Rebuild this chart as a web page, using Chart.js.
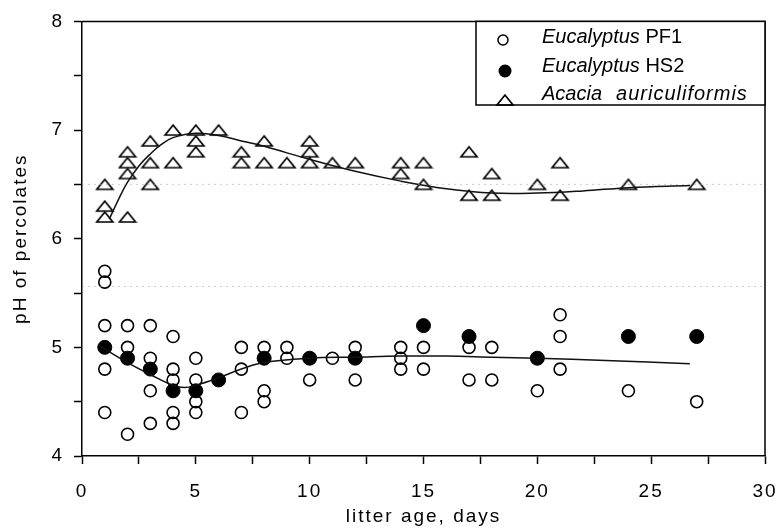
<!DOCTYPE html>
<html>
<head>
<meta charset="utf-8">
<script src="https://cdn.jsdelivr.net/npm/chart.js@4.4.1/dist/chart.umd.min.js"></script>
<style>
  html, body { margin: 0; padding: 0; background: #fff; }
  #c { display: block; }
</style>
</head>
<body>
<canvas id="c" width="781" height="530"></canvas>
<script>
// pH of percolates against litter age
const pf1Days = [1,1,1,1,1, 2,2,2, 3,3,3,3, 4,4,4,4,4, 5,5,5,5, 7,7,7, 8,8,8, 9,9, 10, 11, 12,12, 14,14,14, 15,15, 17,17, 18,18, 20, 21,21,21, 24, 27];
const pf1Values = [5.7,5.6,5.2,4.8,4.4, 5.2,5.0,4.2, 5.2,4.9,4.6,4.3, 5.1,4.8,4.7,4.4,4.3, 4.9,4.7,4.5,4.4, 5.0,4.8,4.4, 5.0,4.6,4.5, 5.0,4.9, 4.7, 4.9, 5.0,4.7, 5.0,4.9,4.8, 5.0,4.8, 5.0,4.7, 5.0,4.7, 4.6, 5.3,5.1,4.8, 4.6, 4.5];

const hs2Days = [1, 2, 3, 4, 5, 6, 8, 10, 12, 15, 17, 20, 24, 27];
const hs2Values = [5.0, 4.9, 4.8, 4.6, 4.6, 4.7, 4.9, 4.9, 4.9, 5.2, 5.1, 4.9, 5.1, 5.1];

const acaciaDays = [1,1,1, 2,2,2,2, 3,3,3, 4,4, 5,5,5, 6, 7,7, 8,8, 9, 10,10,10, 11, 12, 14,14, 15,15, 17,17, 18,18, 20, 21,21, 24, 27];
const acaciaValues = [6.5,6.3,6.2, 6.8,6.7,6.6,6.2, 6.9,6.7,6.5, 7.0,6.7, 7.0,6.9,6.8, 7.0, 6.8,6.7, 6.9,6.7, 6.7, 6.9,6.8,6.7, 6.7, 6.7, 6.7,6.6, 6.7,6.5, 6.8,6.4, 6.6,6.4, 6.5, 6.7,6.4, 6.5, 6.5];

// fitted trend curves
const acaciaFitDays = [1.2, 1.6, 2, 2.5, 3, 3.5, 4, 5, 6, 7, 8, 10, 12, 14, 16, 18, 20, 22, 24, 26.7];
const acaciaFitValues = [6.18, 6.36, 6.52, 6.67, 6.78, 6.87, 6.93, 6.97, 6.95, 6.9, 6.85, 6.73, 6.62, 6.53, 6.46, 6.42, 6.42, 6.44, 6.47, 6.49];
const eucFitDays = [0.8, 2, 3, 4, 4.5, 5, 6, 7, 8, 10, 12, 14, 16, 18, 20, 23, 26.7];
const eucFitValues = [5.01, 4.86, 4.75, 4.65, 4.63, 4.65, 4.72, 4.8, 4.86, 4.9, 4.91, 4.92, 4.92, 4.91, 4.9, 4.88, 4.85];

// faint dotted reference levels
const guideLevels = [6.5, 5.56];
const xRange = [0, 30];
const yRange = [4, 8];

// legend text: [italic words], plain suffix
const legendEntries = [
  { italic: ['Eucalyptus'], plain: ' PF1', marker: 'open' },
  { italic: ['Eucalyptus'], plain: ' HS2', marker: 'filled' },
  { italic: ['Acacia', 'auriculiformis'], plain: '', marker: 'triangle' }
];

const FONT = '"Liberation Sans", Arial, Helvetica, sans-serif';

function pairs(xs, ys) { return xs.map((x, i) => ({ x: x, y: ys[i] })); }

// flat open triangle marker
function makeTriangle(w, h, lw) {
  const cv = document.createElement('canvas');
  cv.width = w + 4; cv.height = h + 4;
  const g = cv.getContext('2d');
  g.lineWidth = lw;
  g.strokeStyle = '#000';
  g.lineJoin = 'miter';
  g.beginPath();
  g.moveTo(2, h + 2);
  g.lineTo(w + 2, h + 2);
  g.lineTo(w / 2 + 2, 2);
  g.closePath();
  g.stroke();
  return cv;
}
const triangleMark = makeTriangle(16, 10, 1.7);

const datasets = [];
guideLevels.forEach(level => {
  datasets.push({
    data: [{ x: xRange[0], y: level }, { x: xRange[1], y: level }],
    showLine: true, borderColor: 'rgba(160,160,160,0.55)', borderWidth: 1,
    borderDash: [2, 4], pointRadius: 0, tension: 0
  });
});
datasets.push({
  data: pairs(acaciaFitDays, acaciaFitValues),
  showLine: true, borderColor: '#111', borderWidth: 1.5, pointRadius: 0, tension: 0.4
});
datasets.push({
  data: pairs(eucFitDays, eucFitValues),
  showLine: true, borderColor: '#111', borderWidth: 1.5, pointRadius: 0, tension: 0.4
});
datasets.push({
  label: 'Eucalyptus PF1',
  data: pairs(pf1Days, pf1Values),
  pointStyle: 'circle', pointRadius: 6, pointBorderWidth: 1.6,
  pointBorderColor: '#000', pointBackgroundColor: 'rgba(0,0,0,0)'
});
datasets.push({
  label: 'Eucalyptus HS2',
  data: pairs(hs2Days, hs2Values),
  pointStyle: 'circle', pointRadius: 7, pointBorderWidth: 1,
  pointBorderColor: '#000', pointBackgroundColor: '#000'
});
datasets.push({
  label: 'Acacia auriculiformis',
  data: pairs(acaciaDays, acaciaValues),
  pointStyle: triangleMark, pointRadius: 8
});

// axis text in this figure is set slightly spaced out
const spacingPlugin = {
  id: 'spacing',
  beforeDraw(chart) { chart.ctx.letterSpacing = '2px'; },
  afterDatasetsDraw(chart) { chart.ctx.letterSpacing = '0px'; }
};

const framePlugin = {
  id: 'frame',
  afterDraw(chart) {
    const { ctx, chartArea: a } = chart;
    ctx.save();
    ctx.strokeStyle = '#000';
    ctx.lineWidth = 1.5;
    ctx.beginPath();
    ctx.moveTo(a.left, a.top);
    ctx.lineTo(a.right, a.top);
    ctx.lineTo(a.right, a.bottom);
    ctx.stroke();
    ctx.restore();
  }
};

const legendPlugin = {
  id: 'boxLegend',
  afterDraw(chart) {
    const { ctx, chartArea: a } = chart;
    const left = 476, top = a.top, right = a.right, bottom = 105;
    ctx.save();
    ctx.letterSpacing = '0px';
    ctx.fillStyle = '#fff';
    ctx.fillRect(left, top, right - left, bottom - top);
    ctx.strokeStyle = '#000';
    ctx.lineWidth = 1.5;
    ctx.strokeRect(left, top, right - left, bottom - top);
    const rowY = [37, 66, 94];
    const markX = 505, textX = 542;
    legendEntries.forEach((e, i) => {
      const y = rowY[i];
      ctx.lineWidth = 1.5;
      ctx.strokeStyle = '#000';
      if (e.marker === 'open') {
        ctx.beginPath(); ctx.arc(markX - 2, y + 3, 5, 0, Math.PI * 2); ctx.stroke();
      } else if (e.marker === 'filled') {
        ctx.beginPath(); ctx.arc(markX, y + 5, 6.5, 0, Math.PI * 2);
        ctx.fillStyle = '#000'; ctx.fill();
      } else {
        ctx.drawImage(triangleMark, markX - triangleMark.width / 2, y + 6 - triangleMark.height / 2);
      }
      ctx.fillStyle = '#000';
      ctx.textBaseline = 'middle';
      ctx.textAlign = 'left';
      ctx.font = 'italic 20px ' + FONT;
      let x = textX;
      e.italic.forEach((word, k) => {
        if (k > 0) { ctx.letterSpacing = '1px'; x += 14; }
        ctx.fillText(word, x, y);
        x += ctx.measureText(word).width;
      });
      ctx.letterSpacing = '0px';
      if (e.plain) {
        ctx.font = '20px ' + FONT;
        ctx.fillText(e.plain, x, y);
      }
    });
    ctx.restore();
  }
};

new Chart(document.getElementById('c'), {
  type: 'scatter',
  data: { datasets: datasets },
  plugins: [spacingPlugin, framePlugin, legendPlugin],
  options: {
    responsive: false,
    animation: false,
    events: [],
    layout: { padding: { top: 14, right: 16, left: 0, bottom: 0 } },
    plugins: { legend: { display: false }, tooltip: { enabled: false } },
    scales: {
      x: {
        type: 'linear', min: xRange[0], max: xRange[1],
        afterFit(s) { s.height = 74; s.paddingLeft = 0; s.paddingRight = 0; },
        ticks: {
          stepSize: 2.5, autoSkip: false, color: '#000', padding: 16,
          font: { family: FONT, size: 19 },
          callback: v => (v % 5 === 0 ? String(v) : '')
        },
        grid: { drawOnChartArea: false, drawTicks: true, tickLength: 8, tickColor: '#000', tickWidth: 1.5 },
        border: { display: true, color: '#000', width: 1.5 },
        title: { display: true, text: 'litter age, days', color: '#000',
                 font: { family: FONT, size: 19 }, padding: { top: 0, bottom: 2 } }
      },
      y: {
        type: 'linear', min: yRange[0], max: yRange[1],
        afterFit(s) { s.width = 82; },
        ticks: {
          stepSize: 0.5, autoSkip: false, color: '#000', padding: 10,
          font: { family: FONT, size: 19 },
          callback: v => (Number.isInteger(v) ? String(v) : '')
        },
        grid: { drawOnChartArea: false, drawTicks: true, tickLength: 8, tickColor: '#000', tickWidth: 1.5 },
        border: { display: true, color: '#000', width: 1.5 },
        title: { display: true, text: 'pH of percolates', color: '#000',
                 font: { family: FONT, size: 19 }, padding: { top: 9, bottom: 0 } }
      }
    }
  }
});
</script>
</body>
</html>
